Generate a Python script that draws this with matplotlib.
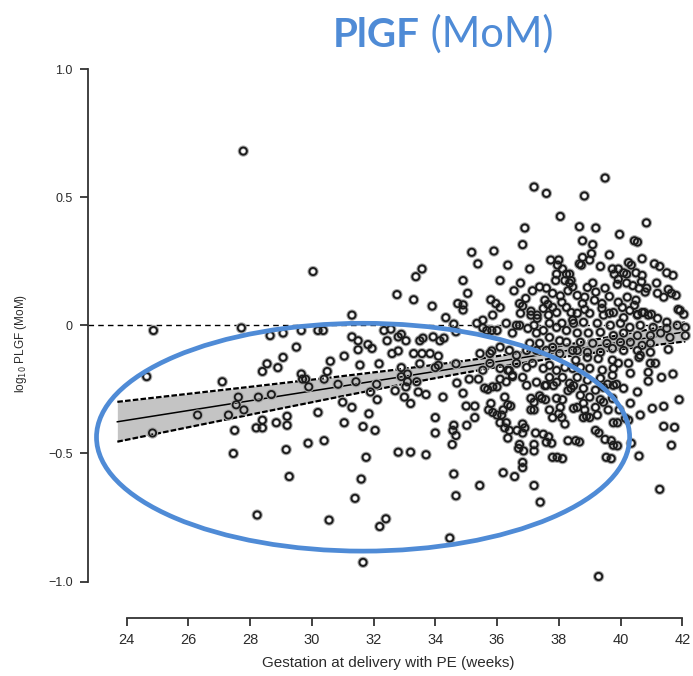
import numpy as np
import matplotlib
matplotlib.use("Agg")
import matplotlib.pyplot as plt
from matplotlib.patches import Ellipse

# (gestation at delivery in weeks, log10 PlGF MoM), grouped by gestational band
band_24_31 = [
    (24.65, -0.20), (24.87, -0.02), (24.84, -0.42), (26.3, -0.35), (27.1, -0.22),
    (27.3, -0.35), (27.46, -0.50), (27.5, -0.41), (27.55, -0.31), (27.62, -0.28),
    (27.72, -0.01), (27.78, 0.68), (27.8, -0.33), (28.2, -0.40), (28.23, -0.74),
    (28.27, -0.28), (28.4, -0.18), (28.4, -0.37), (28.4, -0.40), (28.55, -0.15),
    (28.65, -0.04), (28.69, -0.27), (28.85, -0.38), (28.9, -0.165), (29.07, -0.03),
    (29.07, -0.125), (29.17, -0.485), (29.2, -0.355), (29.2, -0.39), (29.27, -0.59),
    (29.5, -0.085), (29.66, -0.02), (29.66, -0.19), (29.7, -0.21), (29.8, -0.21),
    (29.88, -0.46), (29.9, -0.24), (30.04, 0.21), (30.2, -0.02), (30.2, -0.34),
    (30.37, -0.02), (30.4, -0.21), (30.4, -0.45), (30.5, -0.18), (30.56, -0.76),
    (30.6, -0.14), (30.85, -0.23),
]

band_31_35 = [
    (31.0, -0.30), (31.05, -0.12), (31.05, -0.38), (31.3, 0.04), (31.3, -0.045),
    (31.3, -0.32), (31.4, -0.675), (31.43, -0.22), (31.5, -0.06), (31.5, -0.095),
    (31.56, -0.155), (31.6, -0.60), (31.66, -0.395), (31.66, -0.925), (31.76, -0.515),
    (31.82, -0.075), (31.95, -0.09), (31.85, -0.345), (31.9, -0.26), (32.05, -0.41),
    (32.1, -0.23), (32.12, -0.29), (32.18, -0.15), (32.2, -0.785), (32.34, -0.02),
    (32.4, -0.755), (32.44, -0.06), (32.56, -0.015), (32.6, -0.11), (32.7, -0.255),
    (32.76, 0.12), (32.8, -0.045), (32.8, -0.10), (32.8, -0.495), (32.9, -0.035),
    (32.9, -0.165), (32.9, -0.20), (33.0, -0.28), (33.05, -0.06), (33.05, -0.24),
    (33.1, -0.19), (33.1, -0.22), (33.2, -0.305), (33.2, -0.495), (33.3, 0.10),
    (33.3, -0.11), (33.37, 0.19), (33.4, -0.22), (33.45, -0.26), (33.5, -0.06),
    (33.5, -0.15), (33.57, 0.22), (33.57, -0.11), (33.6, -0.05), (33.7, -0.27),
    (33.7, -0.505), (33.83, -0.11), (33.9, 0.075), (33.93, -0.045), (34.0, -0.165),
    (34.0, -0.36), (34.0, -0.42), (34.1, -0.12), (34.1, -0.156), (34.15, -0.06),
    (34.25, -0.28), (34.28, -0.05), (34.34, 0.03), (34.47, -0.83), (34.55, -0.465),
    (34.6, 0.005), (34.57, -0.41), (34.6, -0.39), (34.6, -0.58), (34.67, -0.025),
    (34.67, -0.15), (34.67, -0.43), (34.67, -0.665), (34.7, -0.225), (34.73, 0.085),
    (34.9, 0.175), (34.9, 0.08), (34.9, 0.06), (34.9, -0.265), (35.0, -0.315),
    (35.02, -0.39),
]

band_35_37 = [
    (35.05, 0.125), (35.1, -0.21), (35.18, 0.285), (35.28, -0.315), (35.28, -0.36),
    (35.35, 0.008), (35.38, 0.24), (35.4, -0.21), (35.44, -0.625), (35.45, -0.11),
    (35.54, 0.02), (35.54, -0.01), (35.54, -0.175), (35.6, -0.245), (35.67, -0.02),
    (35.7, -0.25), (35.73, -0.33), (35.77, -0.148), (35.77, -0.11), (35.8, 0.10),
    (35.8, -0.305), (35.83, -0.10), (35.83, -0.02), (35.86, 0.04), (35.86, -0.24),
    (35.86, -0.34), (35.9, 0.29), (35.96, 0.085), (36.0, -0.24),
    (36.1, 0.175), (36.1, 0.07), (36.0, -0.02), (36.1, -0.085), (36.1, -0.168),
    (36.1, -0.21), (36.35, 0.235), (36.35, -0.175), (36.5, -0.03), (36.5, -0.20),
    (36.55, 0.135), (36.63, 0.0), (36.3, 0.008), (36.4, -0.098), (36.63, -0.117),
    (36.4, -0.176), (36.63, -0.148), (36.3, -0.22), (36.5, -0.195), (36.83, -0.203),
    (36.76, 0.165), (36.73, 0.085), (36.83, 0.075), (36.76, 0.047), (36.93, 0.105),
    (36.9, 0.38), (36.83, 0.315), (36.73, 0.0), (36.96, -0.098), (36.96, -0.164),
    (36.96, -0.234), (37.0, -0.012), (36.0, -0.35), (36.15, -0.35), (36.1, -0.38),
    (36.25, -0.28), (36.35, -0.31), (36.44, -0.315), (36.3, -0.38), (36.4, -0.41),
    (36.35, -0.44), (36.2, -0.575), (36.57, -0.59), (36.73, -0.465), (36.83, -0.385),
    (36.83, -0.42), (36.9, -0.40), (36.7, -0.48), (36.86, -0.49), (36.83, -0.535),
    (36.83, -0.555), (36.2, -0.33), (36.65, -0.41), (36.25, -0.40),
]

band_37_39 = [
    (37.2, 0.54), (37.6, 0.515), (37.06, 0.22), (37.74, 0.255), (37.38, 0.15),
    (37.6, 0.145), (37.15, 0.135), (37.8, 0.125), (37.55, 0.098), (37.65, 0.082),
    (37.8, 0.07), (37.5, 0.066), (37.93, 0.05), (37.1, 0.055), (37.1, 0.04),
    (37.3, 0.04), (37.67, 0.04), (37.93, 0.20), (37.9, 0.175), (37.96, 0.235),
    (38.0, 0.255), (37.3, 0.027), (37.2, 0.0), (37.28, -0.03), (37.5, -0.02),
    (37.7, 0.008), (37.93, -0.008), (37.7, -0.047), (37.06, -0.07), (37.38, -0.07),
    (37.28, -0.098), (37.6, -0.098), (37.8, -0.086), (37.15, -0.148), (37.5, -0.168),
    (37.7, -0.156), (37.93, -0.176), (37.28, -0.222), (37.6, -0.234), (37.7, -0.203),
    (37.93, -0.222), (37.1, -0.285), (37.38, -0.275), (37.93, -0.285), (37.2, -0.30),
    (37.2, -0.33), (37.45, -0.285), (37.57, -0.29), (37.7, -0.33), (37.55, -0.235),
    (37.83, -0.235), (37.2, -0.465), (37.2, -0.49), (37.2, -0.625), (37.4, -0.69),
    (37.25, -0.42), (37.5, -0.425), (37.67, -0.435), (37.77, -0.46), (37.8, -0.515),
    (37.95, -0.515), (37.1, -0.33), (37.8, -0.36), (37.6, -0.456),
    (38.05, 0.425), (38.12, 0.22), (38.25, 0.20), (38.2, 0.175), (38.35, 0.165),
    (38.05, 0.115), (38.3, 0.135), (38.1, 0.09), (38.25, 0.07), (38.4, 0.05),
    (38.83, 0.505), (38.67, 0.385), (38.77, 0.33), (38.77, 0.265), (38.67, 0.24),
    (38.73, 0.235), (38.35, 0.20), (38.4, 0.175), (38.45, 0.15), (38.93, 0.148),
    (38.6, 0.117), (38.84, 0.11), (38.77, 0.085), (38.84, 0.062), (38.45, 0.02),
    (38.1, 0.008), (38.25, -0.02), (38.03, -0.06), (38.25, -0.066), (38.03, -0.11),
    (38.45, -0.098), (38.2, -0.164), (38.45, -0.168), (38.12, -0.203), (38.35, -0.226),
    (38.4, -0.246), (38.6, 0.047), (39.0, 0.047), (38.48, 0.008), (38.8, 0.012),
    (38.6, -0.03), (38.96, -0.03), (38.7, -0.066), (38.6, -0.098), (38.93, -0.105),
    (38.55, -0.136), (38.93, -0.125), (38.7, -0.164), (39.0, -0.168), (38.6, -0.203),
    (38.93, -0.214), (38.8, -0.246), (38.7, -0.273), (39.0, -0.28), (38.48, -0.324),
    (38.8, -0.304), (38.8, -0.36), (39.0, -0.36), (38.55, -0.45), (38.2, -0.385),
    (38.1, -0.36), (38.0, -0.345), (38.05, -0.32), (38.12, -0.29), (38.3, -0.255),
    (38.48, -0.235), (38.6, -0.32), (38.3, -0.45), (38.67, -0.455), (38.12, -0.52),
    (38.9, -0.355), (38.84, -0.33),
]

band_39_42 = [
    (39.5, 0.575), (39.2, 0.38), (39.1, 0.315), (39.06, 0.28), (39.0, 0.255),
    (39.64, 0.275), (39.35, 0.23), (39.74, 0.22), (39.93, 0.22), (39.8, 0.20),
    (39.93, 0.18), (39.9, 0.16), (39.97, 0.355), (39.1, 0.165), (39.2, 0.13),
    (39.5, 0.145), (39.64, 0.113), (39.16, 0.098), (39.4, 0.085), (39.93, 0.09),
    (39.4, 0.066), (39.64, 0.047), (39.45, 0.04), (39.77, 0.05), (39.25, 0.008),
    (39.67, 0.0), (40.0, 0.008), (39.35, -0.027), (39.77, -0.04), (39.1, -0.07),
    (39.56, -0.07), (40.0, -0.066), (39.35, -0.105), (39.74, -0.09), (39.28, -0.13),
    (39.74, -0.136), (39.93, -0.148), (39.41, -0.175), (39.77, -0.168), (39.35, -0.207),
    (39.74, -0.195), (39.19, -0.253), (39.45, -0.242), (39.77, -0.234), (39.35, -0.29),
    (39.74, -0.285), (39.19, -0.32), (39.6, -0.33), (39.25, -0.35), (39.77, -0.38),
    (39.19, -0.41), (39.5, -0.445), (39.77, -0.468), (39.54, -0.515), (39.3, -0.42),
    (39.7, -0.45), (39.9, -0.47), (39.7, -0.52), (39.29, -0.98), (39.9, -0.38),
    (39.96, -0.33), (39.45, -0.30), (39.58, -0.23), (39.87, -0.23),
    (40.84, 0.40), (40.45, 0.33), (40.55, 0.325), (40.7, 0.26), (41.1, 0.24),
    (41.5, 0.205), (40.26, 0.245), (40.35, 0.235), (40.1, 0.205), (40.2, 0.20),
    (40.5, 0.205), (40.7, 0.195), (40.68, 0.17), (41.17, 0.165), (40.2, 0.165),
    (40.4, 0.155), (40.6, 0.145), (40.8, 0.13), (40.85, 0.145), (41.2, 0.125),
    (41.55, 0.14), (41.65, 0.125), (40.22, 0.11), (40.5, 0.098), (40.45, 0.078),
    (40.06, 0.07), (40.3, 0.058), (40.77, 0.05), (41.0, 0.043), (41.87, 0.062),
    (40.55, 0.043), (42.05, 0.043), (41.7, 0.195), (41.8, 0.117), (41.27, 0.23),
    (41.4, 0.11), (40.1, 0.03), (40.55, 0.04), (40.7, 0.05), (40.9, 0.04),
    (41.2, 0.027), (41.5, 0.012), (41.93, 0.058), (40.3, -0.008), (40.64, 0.0),
    (41.06, -0.008), (41.5, -0.012), (41.84, 0.0), (42.1, -0.008), (42.1, -0.04),
    (40.1, -0.03), (40.55, -0.04), (40.97, -0.04), (41.3, -0.03), (41.6, -0.047),
    (40.32, -0.066), (40.7, -0.078), (40.97, -0.07), (40.1, -0.098), (40.55, -0.098),
    (40.64, -0.117), (40.97, -0.105), (41.55, -0.094), (40.26, -0.148), (40.6, -0.125),
    (40.97, -0.148), (41.13, -0.148), (40.32, -0.187), (40.9, -0.183), (41.33, -0.203),
    (41.7, -0.19), (40.9, -0.218), (40.1, -0.246), (40.55, -0.26), (41.9, -0.29),
    (40.32, -0.304), (41.03, -0.324), (41.4, -0.316), (40.16, -0.363), (40.26, -0.37),
    (40.64, -0.35), (40.35, -0.46), (40.6, -0.51), (41.4, -0.394), (41.75, -0.398),
    (41.65, -0.468), (41.27, -0.64),
]

fit_weeks = [23.7, 42.1]

points = band_24_31 + band_31_35 + band_35_37 + band_37_39 + band_39_42
ga = np.array([p[0] for p in points])
plgf = np.array([p[1] for p in points])

# least squares line with 95% confidence band for the mean
slope, intercept = np.polyfit(ga, plgf, 1)
n = len(ga)
resid = plgf - (intercept + slope * ga)
s = np.sqrt(resid @ resid / (n - 2))
sxx = ((ga - ga.mean()) ** 2).sum()
xs = np.linspace(fit_weeks[0], fit_weeks[1], 200)
yfit = intercept + slope * xs
se = s * np.sqrt(1 / n + (xs - ga.mean()) ** 2 / sxx)
lo = yfit - 1.96 * se
hi = yfit + 1.96 * se

font = ["Liberation Sans Narrow", "Liberation Sans", "DejaVu Sans"]
ink = "#2b2b2b"
blue = "#4f8bd6"

fig = plt.figure(figsize=(6.93, 6.76), dpi=100)
ax = fig.add_axes([0.127, 0.0858, 0.8664, 0.812])
ax.set_xlim(22.75, 42.2)
ax.set_ylim(-1.142, 1.0)

ax.axhline(0, color="black", lw=1.0, ls=(0, (4, 3)), zorder=1)
ax.fill_between(xs, lo, hi, color="#c4c4c4", lw=0, zorder=2)
ax.plot(xs, yfit, color="black", lw=1.1, zorder=3)
ax.plot(xs, lo, color="black", lw=1.6, ls=(0, (2.5, 1)), zorder=3)
ax.plot(xs, hi, color="black", lw=1.6, ls=(0, (2.5, 1)), zorder=3)

# soft grey rim under each open circle
ax.scatter(ga, plgf, s=30, facecolors="none", edgecolors="#a8a8a8",
           linewidths=2.6, zorder=4, clip_on=False)
ax.scatter(ga, plgf, s=27, facecolors="none", edgecolors="#1a1a1a",
           linewidths=1.3, zorder=4, clip_on=False)

ax.add_patch(Ellipse((31.66, -0.4365), 17.27, 0.889, fill=False, ec=blue,
                     lw=3.4, zorder=6, clip_on=False))

for side in ("top", "right"):
    ax.spines[side].set_visible(False)
ax.spines["left"].set_bounds(-1, 1)
ax.spines["bottom"].set_bounds(24, 42)
for side in ("left", "bottom"):
    ax.spines[side].set_linewidth(1.3)
    ax.spines[side].set_color("#333333")

ax.set_xticks(range(24, 43, 2))
ax.set_yticks([-1.0, -0.5, 0, 0.5, 1.0])
ax.set_yticklabels(["\u22121.0", "\u22120.5", "0", "0.5", "1.0"])
ax.tick_params(axis="both", length=6, width=1.3, color="#333333")
ax.tick_params(axis="x", labelsize=10.5, pad=5)
ax.tick_params(axis="y", labelsize=9, pad=5)
for lab in ax.get_xticklabels() + ax.get_yticklabels():
    lab.set_fontfamily(font)
    lab.set_color(ink)

ax.set_xlabel("Gestation at delivery with PE (weeks)", fontsize=11,
              fontfamily=font, color=ink, labelpad=6)
ax.set_ylabel(r"log$_{10}$ PLGF (MoM)", fontsize=8.5, fontfamily=font,
              color=ink, labelpad=14)

# two-weight heading
renderer = fig.canvas.get_renderer()
t1 = fig.text(333 / 693, 1 - 47 / 676, "PlGF", fontsize=29, fontweight="bold",
              color=blue, fontfamily="Lato", ha="left", va="baseline")
bb = t1.get_window_extent(renderer)
fig.text(bb.x1 / fig.bbox.width, 1 - 47 / 676, " (MoM)", fontsize=30,
         color=blue, fontfamily="Lato", ha="left", va="baseline")

fig.savefig("out.png", dpi=100)
